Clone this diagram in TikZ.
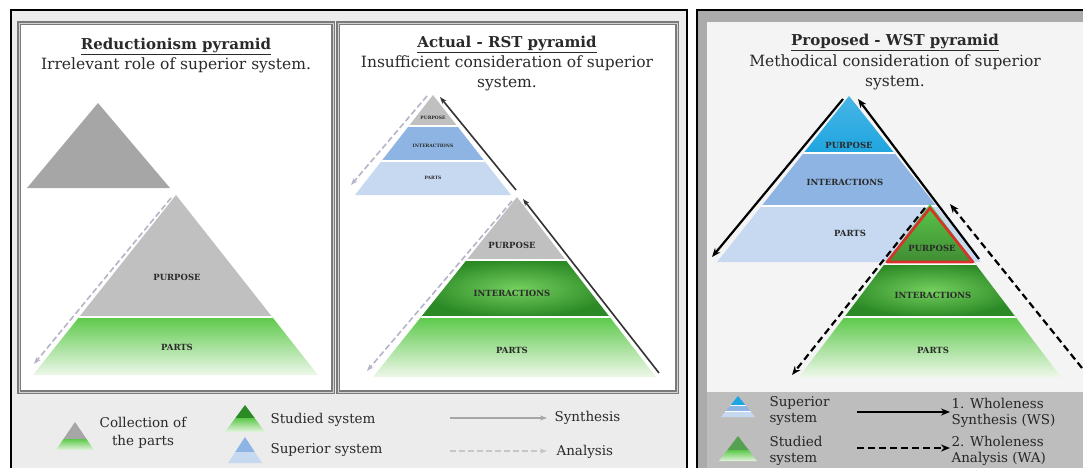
\documentclass[tikz,border=0pt]{standalone}
\usepackage{fontspec}
\setmainfont{DejaVu Serif}
\usetikzlibrary{arrows.meta}
\definecolor{framegray}{HTML}{7A7A7A}
\definecolor{legendbg}{HTML}{ECECEC}
\definecolor{wstbg}{HTML}{F4F4F4}
\definecolor{wstband}{HTML}{BDBDBD}
\definecolor{wstrim}{HTML}{ABABAB}
\definecolor{purpgray}{HTML}{C0C0C0}
\definecolor{topgray}{HTML}{A6A6A6}
\definecolor{greenhi}{HTML}{5CC94A}
\definecolor{greenlo}{HTML}{F0F8EC}
\definecolor{greendark}{HTML}{2C8A26}
\definecolor{greenmid}{HTML}{74CF5E}
\definecolor{bluebright}{HTML}{1FA5E0}
\definecolor{bluemid}{HTML}{8DB4E2}
\definecolor{bluepale}{HTML}{C6D9F1}
\definecolor{redline}{HTML}{D8322A}
\definecolor{textgray}{HTML}{2A2A2A}
\definecolor{anagray}{HTML}{B6B4C6}
\begin{document}
\begin{tikzpicture}[x=1pt,y=-1pt,
    title/.style={font=\fontsize{15}{17}\selectfont\bfseries,text=textgray},
    sub/.style={font=\fontsize{15.5}{20}\selectfont,text=textgray,align=center},
    lab/.style={font=\fontsize{8.5}{9}\selectfont\bfseries,text=textgray},
    tinylab/.style={font=\fontsize{4.5}{5}\selectfont\bfseries,text=textgray},
    leg/.style={font=\fontsize{13.5}{16}\selectfont,text=textgray,anchor=west,align=left},
    gap/.style={white,line width=1.5pt},
    panel/.style={draw=framegray,line width=1.3pt,double=gray!35,double distance=0.8pt,fill=white},
    syn/.style={-{Stealth[length=7pt,width=5pt]},line width=1.6pt,draw=gray!40!black},
    ana/.style={-{Stealth[length=7pt,width=5pt]},line width=1.6pt,draw=anagray,dash pattern=on 6pt off 3pt},
    wsyn/.style={-{Stealth[length=9pt,width=7pt]},line width=2.2pt,draw=black},
    wana/.style={wsyn,dash pattern=on 7pt off 4pt}]
  \useasboundingbox (0,0) rectangle (1083,467);
  % frames
  \draw[line width=2.5pt,fill=legendbg] (11,10) rectangle (687,480);
  \fill[wstrim] (697,10) rectangle (1090,480);
  \draw[line width=2.5pt] (697,480) -- (697,10) -- (1090,10);
  \fill[wstbg] (707,22) rectangle (1090,392);
  \fill[wstband] (707,392) rectangle (1090,480);
  \draw[panel] (19,23) rectangle (333,392);
  \draw[panel] (338,23) rectangle (677,392);
  % titles
  \node[title] (redtitle) at (176,46) {\underline{Reductionism pyramid}};
  \node[sub] (redsub) at (176,65) {Irrelevant role of superior system.};
  \node[title] (rsttitle) at (507,44) {\underline{Actual - RST pyramid}};
  \node[sub] (rstsub) at (507,73) {Insufficient consideration of superior\\system.};
  \node[title] (wsttitle) at (895,42) {\underline{Proposed - WST pyramid}};
  \node[sub] (wstsub) at (895,72) {Methodical consideration of superior\\system.};

  % reductionism pyramid
  \fill[topgray] (98,103) -- (170,188) -- (27,188) -- cycle;
  \begin{scope}
    \clip (176,195) -- (318,375) -- (33,375) -- cycle;
    \fill[purpgray] (30,190) rectangle (320,317);
    \shade[top color=greenhi,bottom color=greenlo] (30,317) rectangle (320,376);
    \draw[gap] (30,317) -- (320,317);
  \end{scope}
  \node[lab] (redpurp) at (177,277) {PURPOSE};
  \node[lab] (redparts) at (177,347) {PARTS};
  \coordinate (reda1) at (171,198);
  \coordinate (reda2) at (34,364);
  \draw[ana] (reda1) -- (reda2);

  % RST: superior system
  \begin{scope}
    \clip (433,95) -- (511,195) -- (355,195) -- cycle;
    \fill[purpgray] (350,90) rectangle (515,126);
    \fill[bluemid] (350,126) rectangle (515,161);
    \fill[bluepale] (350,161) rectangle (515,196);
    \draw[gap] (350,126) -- (515,126) (350,161) -- (515,161);
  \end{scope}
  \node[tinylab] (suppurp) at (433,118) {PURPOSE};
  \node[tinylab] (supint) at (433,146) {INTERACTIONS};
  \node[tinylab] (supparts) at (433,178) {PARTS};
  \coordinate (supa1) at (427,96);
  \coordinate (supa2) at (351,185);
  \coordinate (sups1) at (516,190);
  \coordinate (sups2) at (440,97);
  \draw[ana] (supa1) -- (supa2);
  \draw[syn] (sups1) -- (sups2);

  % RST: studied system
  \begin{scope}
    \clip (517,197) -- (656,377) -- (373,377) -- cycle;
    \fill[purpgray] (370,195) rectangle (660,260);
    \shade[inner color=greenmid,outer color=greendark] (420,260) rectangle (614,317);
    \shade[top color=greenhi,bottom color=greenlo] (370,317) rectangle (660,378);
    \draw[gap] (370,260) -- (660,260) (370,317) -- (660,317);
  \end{scope}
  \node[lab] (rstpurp) at (512,245) {PURPOSE};
  \node[lab] (rstint) at (512,293) {INTERACTIONS};
  \node[lab] (rstparts) at (512,350) {PARTS};
  \coordinate (rsta1) at (512,201);
  \coordinate (rsta2) at (367,371);
  \coordinate (rsts1) at (659,373);
  \coordinate (rsts2) at (523,199);
  \draw[ana] (rsta1) -- (rsta2);
  \draw[syn] (rsts1) -- (rsts2);

  % WST: superior system
  \begin{scope}
    \clip (849,96) -- (981,262) -- (717,262) -- cycle;
    \shade[top color=bluebright!80,bottom color=bluebright] (710,90) rectangle (990,153);
    \fill[bluemid] (710,153) rectangle (990,206);
    \fill[bluepale] (710,206) rectangle (990,263);
    \draw[gap] (710,153) -- (990,153) (710,206) -- (990,206);
  \end{scope}
  \node[lab] (wsuppurp) at (849,145) {PURPOSE};
  \node[lab] (wsupint) at (845,182) {INTERACTIONS};
  \node[lab] (wsupparts) at (850,233) {PARTS};

  % WST: studied system
  \begin{scope}
    \clip (930,204) -- (1061,377) -- (799,377) -- cycle;
    \shade[top color=greenhi,bottom color=greenhi!70!black] (795,200) rectangle (1065,263);
    \shade[inner color=greenmid,outer color=greendark] (840,263) rectangle (1022,317);
    \shade[top color=greenhi,bottom color=greenlo] (795,317) rectangle (1065,378);
    \draw[gap] (795,264) -- (1065,264) (795,317) -- (1065,317);
  \end{scope}
  \draw[redline,line width=2.6pt,line join=round] (930,208) -- (973,262) -- (887,262) -- cycle;
  \node[lab] (wstpurp) at (932,248) {PURPOSE};
  \node[lab] (wstint) at (933,295) {INTERACTIONS};
  \node[lab] (wstparts) at (933,350) {PARTS};
  \coordinate (ws1a) at (843,99);
  \coordinate (ws1b) at (712,257);
  \coordinate (ws2a) at (979,259);
  \coordinate (ws2b) at (858,99);
  \coordinate (wa1a) at (925,208);
  \coordinate (wa1b) at (792,375);
  \coordinate (wa2a) at (1082,368);
  \coordinate (wa2b) at (950,204);
  \draw[wsyn] (ws1a) -- (ws1b);
  \draw[wsyn] (ws2a) -- (ws2b);
  \draw[wana] (wa1a) -- (wa1b);
  \draw[wana] (wa2a) -- (wa2b);

  % legend, left
  \begin{scope}
    \clip (75,422) -- (94,450) -- (56,450) -- cycle;
    \fill[topgray] (50,420) rectangle (100,439);
    \shade[top color=greenhi,bottom color=greenlo] (50,439) rectangle (100,451);
  \end{scope}
  \node[font=\fontsize{13.5}{18}\selectfont,text=textgray,align=center] (legcoll) at (143,433) {Collection of\\the parts};
  \begin{scope}
    \clip (245,405) -- (265,432) -- (225,432) -- cycle;
    \fill[greendark] (220,400) rectangle (270,418);
    \shade[top color=greenhi,bottom color=greenlo] (220,418) rectangle (270,433);
  \end{scope}
  \node[leg] (legstud) at (267,420) {Studied system};
  \begin{scope}
    \clip (245,437) -- (262,463) -- (228,463) -- cycle;
    \fill[bluemid] (220,435) rectangle (270,452);
    \fill[bluepale] (220,452) rectangle (270,464);
  \end{scope}
  \node[leg] (legsup) at (267,450) {Superior system};
  \coordinate (legs1) at (450,418);
  \coordinate (legs2) at (547,418);
  \coordinate (lega1) at (450,451);
  \coordinate (lega2) at (547,451);
  \draw[syn,draw=gray!70] (legs1) -- (legs2);
  \draw[ana,draw=gray!45] (lega1) -- (lega2);
  \node[leg] (legsyn) at (551,418) {Synthesis};
  \node[leg] (legana) at (553,452) {Analysis};

  % legend, right
  \begin{scope}
    \clip (738,396) -- (755,417) -- (721,417) -- cycle;
    \fill[bluebright] (715,394) rectangle (760,405);
    \fill[bluemid] (715,405) rectangle (760,411);
    \fill[bluepale] (715,411) rectangle (760,418);
    \draw[gap,line width=1pt] (715,405) -- (760,405) (715,411) -- (760,411);
  \end{scope}
  \begin{scope}
    \clip (738,436) -- (757,461) -- (719,461) -- cycle;
    \fill[greendark!80] (715,434) rectangle (760,450);
    \shade[top color=greenhi,bottom color=greenlo] (715,450) rectangle (760,462);
  \end{scope}
  \node[leg,text=gray!30!black] (wlegsup) at (766,411) {Superior\\system};
  \node[leg,text=gray!30!black] (wlegstud) at (766,451) {Studied\\system};
  \coordinate (wlegs1) at (857,412);
  \coordinate (wlegs2) at (950,412);
  \coordinate (wlega1) at (857,448);
  \coordinate (wlega2) at (950,448);
  \draw[wsyn,line width=2pt] (wlegs1) -- (wlegs2);
  \draw[wana,line width=2pt] (wlega1) -- (wlega2);
  \node[leg,text=gray!30!black] (wlegws) at (948,413) {1. Wholeness\\Synthesis (WS)};
  \node[leg,text=gray!30!black] (wlegwa) at (948,451) {2. Wholeness\\Analysis (WA)};
\end{tikzpicture}
\end{document}
